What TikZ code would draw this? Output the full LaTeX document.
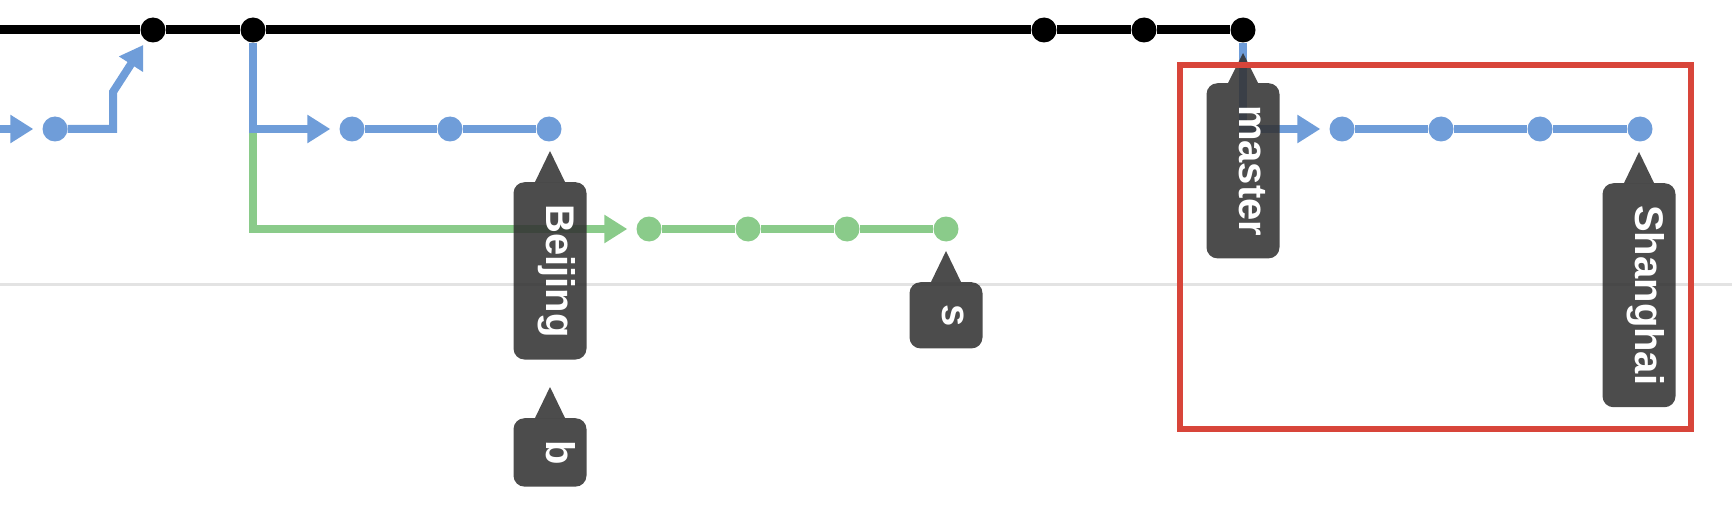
\documentclass[tikz,border=0pt]{standalone}
\usepackage{fontspec}
\setsansfont{Liberation Sans}
\usepackage{tikz}
\usetikzlibrary{arrows.meta, positioning, calc}
\definecolor{gitblue}{HTML}{6F9DD9}
\definecolor{gitgreen}{HTML}{8ACB8A}
\definecolor{tagdark}{HTML}{333333}
\definecolor{markred}{HTML}{D8453A}
\tikzset{%
	commit dot/.style={
		circle,
		fill,
		inner sep=0pt,
		minimum size=25pt
	},
	branch tag/.style={
		rectangle,
		rounded corners=11pt,
		fill=tagdark,
		fill opacity=0.88,
		text opacity=1,
		text=white,
		rotate=-90,
		anchor=west,
		minimum height=73pt,
		minimum width=62pt,
		inner xsep=22pt,
		text height=0.74em,
		text depth=0.02em,
		font=\sffamily\bfseries\fontsize{40pt}{48pt}\selectfont
	},
	tag tip/.style={
		fill=tagdark,
		fill opacity=0.88
	},
	into commit/.style={
		-{Triangle[length=23pt,width=27pt]},
		shorten >=9pt
	},
}

\begin{document}
\begin{tikzpicture}[
				x=1pt, y=-1pt,
				main line/.style={draw=black, line width=9pt},
				blue line/.style={draw=gitblue, line width=8pt},
				green line/.style={draw=gitgreen, line width=8pt}
				]
				\useasboundingbox (0,0) rectangle (1732,508);
				\draw[gray!22, line width=3pt] (0,284) -- (1732,284);
				% master
				\node[commit dot, black] (m1) at (153,30) {};
				\node[commit dot, black] (m2) at (253,30) {};
				\node[commit dot, black] (m3) at (1044,30) {};
				\node[commit dot, black] (m4) at (1144,30) {};
				\node[commit dot, black] (m5) at (1243,30) {};
				\coordinate (mstart) at (0,30);
				\draw[main line] (mstart) -- (m1) -- (m2) -- (m3) -- (m4) -- (m5);
				% branch merged back
				\coordinate (ain) at (0,129);
				\coordinate (ajog) at (113,92);
				\node[commit dot, gitblue] (a1) at (55,129) {};
				\draw[blue line, into commit] (ain) -- (a1);
				\draw[blue line, into commit, shorten >=5pt] (a1) -| (ajog) -- (m1);
				% Beijing and s
				\node[commit dot, gitgreen] (g1) at (649,229) {};
				\node[commit dot, gitgreen] (g2) at (748,229) {};
				\node[commit dot, gitgreen] (g3) at (847,229) {};
				\node[commit dot, gitgreen] (g4) at (946,229) {};
				\draw[green line, into commit] (m2) |- (g1);
				\draw[green line] (g1) -- (g2) -- (g3) -- (g4);
				\node[commit dot, gitblue] (b1) at (352,129) {};
				\node[commit dot, gitblue] (b2) at (450,129) {};
				\node[commit dot, gitblue] (b3) at (549,129) {};
				\draw[blue line, into commit] (m2) |- (b1);
				\draw[blue line] (b1) -- (b2) -- (b3);
				% Shanghai
				\node[commit dot, gitblue] (h1) at (1342,129) {};
				\node[commit dot, gitblue] (h2) at (1441,129) {};
				\node[commit dot, gitblue] (h3) at (1540,129) {};
				\node[commit dot, gitblue] (h4) at (1640,129) {};
				\draw[blue line, into commit] (m5) |- (h1);
				\draw[blue line] (h1) -- (h2) -- (h3) -- (h4);
				% tags
				\node[branch tag] (tagBeijing) at (550,182) {Beijing};
				\fill[tag tip] ([xshift=-15pt]tagBeijing.west) -- ([yshift=31pt]tagBeijing.west) -- ([xshift=15pt]tagBeijing.west) -- cycle;
				\node[branch tag] (tagb) at (550,418) {b};
				\fill[tag tip] ([xshift=-15pt]tagb.west) -- ([yshift=31pt]tagb.west) -- ([xshift=15pt]tagb.west) -- cycle;
				\node[branch tag] (tags) at (946,282) {s};
				\fill[tag tip] ([xshift=-15pt]tags.west) -- ([yshift=31pt]tags.west) -- ([xshift=15pt]tags.west) -- cycle;
				\node[branch tag] (tagmaster) at (1243,83) {master};
				\fill[tag tip] ([xshift=-15pt]tagmaster.west) -- ([yshift=30pt]tagmaster.west) -- ([xshift=15pt]tagmaster.west) -- cycle;
				\node[branch tag] (tagShanghai) at (1639,183) {Shanghai};
				\fill[tag tip] ([xshift=-15pt]tagShanghai.west) -- ([yshift=31pt]tagShanghai.west) -- ([xshift=15pt]tagShanghai.west) -- cycle;
				% highlight
				\draw[markred, line width=6pt] (1180,65) rectangle (1691,429);
			\end{tikzpicture}
\end{document}
